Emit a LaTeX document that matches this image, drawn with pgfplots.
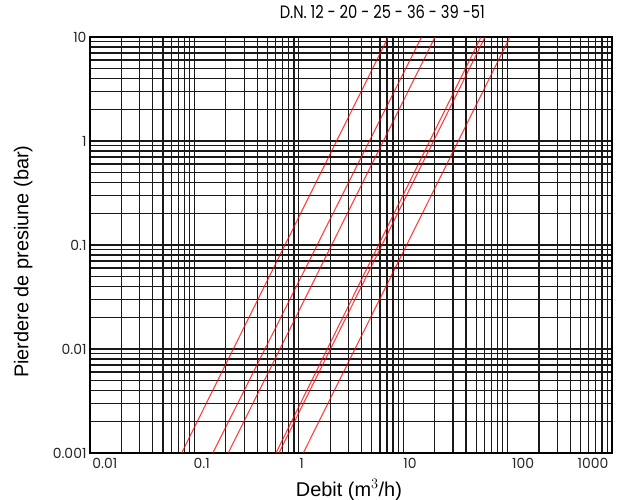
\documentclass[border=0pt]{standalone}
\usepackage{fontspec}
\setmainfont{Liberation Sans}
\newfontfamily\geo{Poppins}
\newfontfamily\geonarrow[FakeStretch=0.82]{Poppins}
\usepackage{pgfplots}
\pgfplotsset{compat=1.18}

\begin{document}
\begin{tikzpicture}
\path[use as bounding box] (0,0) rectangle (619bp,500bp);
\begin{axis}[
    at={(90bp,47bp)},
    anchor=south west,
    scale only axis,
    width=522bp,
    height=416bp,
    xmode=log,
    ymode=log,
    xmin=0.01, xmax=1000,
    ymin=0.001, ymax=10,
    axis line style={black, line width=1.4bp},
    % labels sit a little off the decade lines, as in the scan
    xtick={0.0139,0.1175,1.066,11.6,140.6,658},
    xticklabels={0.01,0.1,1,10,100,1000},
    ytick={0.001,0.01,0.1,1,10},
    yticklabels={0.001,0.01,0.1,1,10},
    major tick length=0pt,
    minor tick length=0pt,
    minor xtick={0.02,0.03,0.04,0.05,0.06,0.07,0.08,0.09,0.1,
                 0.2,0.3,0.4,0.5,0.6,0.7,0.8,0.9,1,
                 2,3,4,5,6,7,8,9,10,
                 20,30,40,50,60,70,80,90,100,
                 200,300,400,500,600,700,800,900},
    minor ytick={0.002,0.003,0.004,0.005,0.006,0.007,0.008,0.009,0.01,
                 0.02,0.03,0.04,0.05,0.06,0.07,0.08,0.09,0.1,
                 0.2,0.3,0.4,0.5,0.6,0.7,0.8,0.9,1,
                 2,3,4,5,6,7,8,9},
    xmajorgrids=false, ymajorgrids=false,
    xminorgrids=true, yminorgrids=true,
    minor grid style={black!90, line width=1.25bp},
    /pgf/number format/assume math mode=true,
    tick label style={font=\geo\fontsize{14}{16}\selectfont, text=black!85},
    xticklabel style={yshift=-2bp},
    title={D.N. 12 - 20 - 25 - 36 - 39 -51},
    title style={font=\geonarrow\fontsize{18}{20}\selectfont,
                 at={(axis description cs:0.56,1.046)}, anchor=center},
    xlabel={Debit (m$^3$/h)},
    xlabel style={font=\fontsize{20}{22}\selectfont,
                  at={(axis description cs:0.496,-0.089)}, anchor=center},
    ylabel={Pierdere de presiune (bar)},
    ylabel style={font=\fontsize{20}{22}\selectfont,
                  at={(axis description cs:-0.128,0.46)}, anchor=center},
]
    \addplot[red, line width=1.1bp, opacity=0.75] coordinates {
        (0.0755, 0.001)
        (7.19, 10)
    };
    \addplot[red, line width=1.1bp, opacity=0.75] coordinates {
        (0.150, 0.001)
        (15.0, 10)
    };
    \addplot[red, line width=1.1bp, opacity=0.75] coordinates {
        (0.211, 0.001)
        (20.2, 10)
    };
    \addplot[red, line width=1.1bp, opacity=0.75] coordinates {
        (0.605, 0.001)
        (55.6, 10)
    };
    \addplot[red, line width=1.1bp, opacity=0.75] coordinates {
        (0.645, 0.001)
        (60.8, 10)
    };
    \addplot[red, line width=1.1bp, opacity=0.75] coordinates {
        (1.104, 0.001)
        (105.4, 10)
    };
\end{axis}
\end{tikzpicture}
\end{document}
